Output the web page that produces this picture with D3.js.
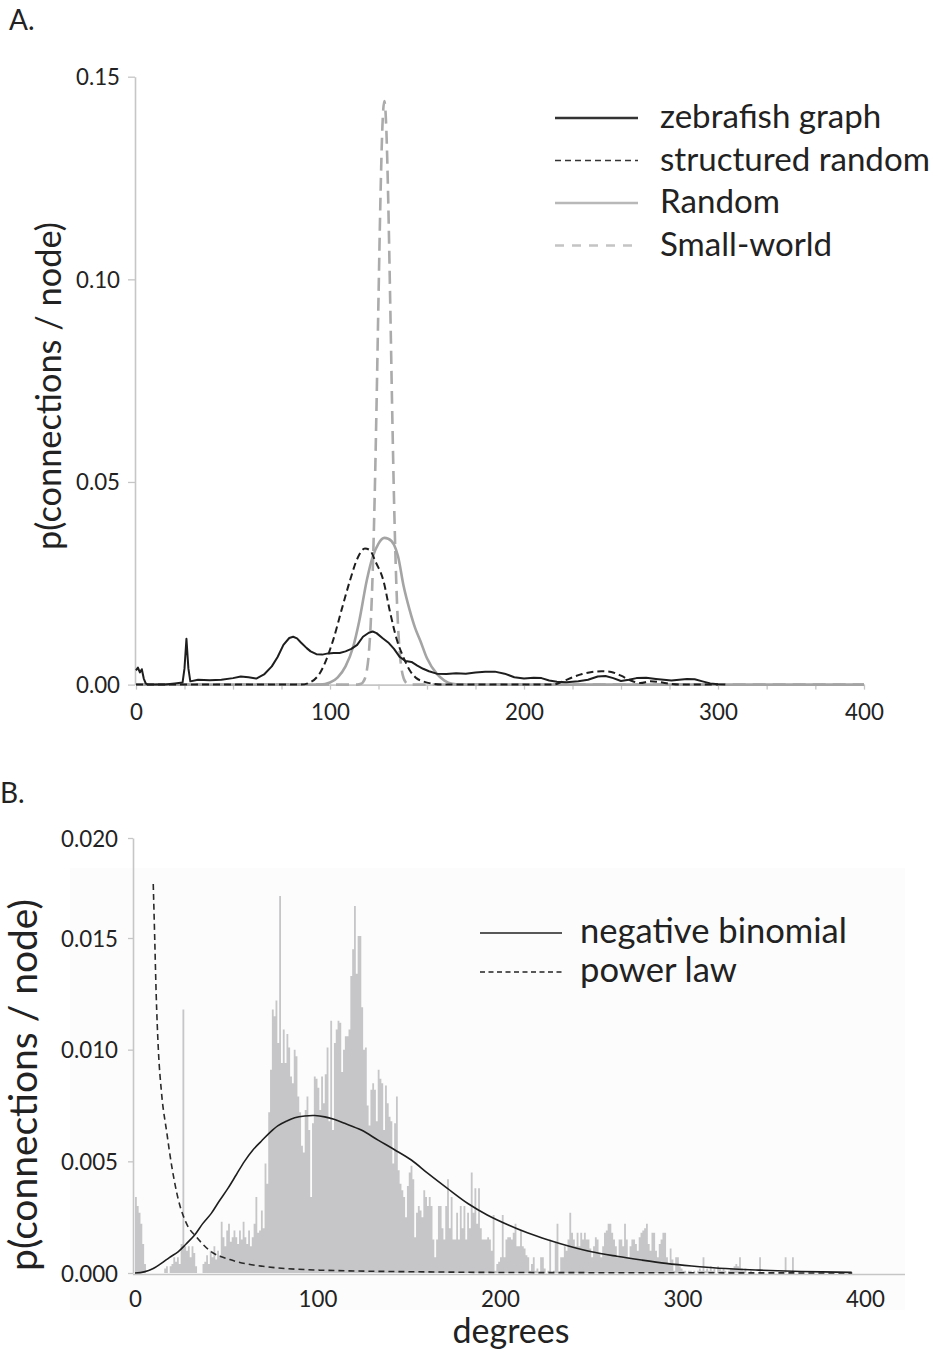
<!DOCTYPE html>
<html><head><meta charset="utf-8">
<script src="https://cdn.jsdelivr.net/npm/d3@7"></script>
<style>
html,body{margin:0;padding:0;background:#fff;}
svg{display:block;font-family:Lato,'Open Sans',sans-serif;}
</style></head><body>
<svg id="chart" width="944" height="1353"></svg>
<script>
// ---------------- DATA ----------------
// Panel A: degree distributions, [degree, p]
const zebrafishGraph = [[0,0.0035],[1,0.0042],[2,0.003],[3,0.0038],[4,0.0015],[5,0.0003],[6,0],[15,0],[20,0.0003],[24,0.0005],[25,0.004],[26,0.0113],[27,0.004],[28,0.0008],[32,0.0012],[38,0.0011],[44,0.0012],[50,0.0016],[54,0.002],[58,0.0018],[62,0.0015],[66,0.0025],[70,0.0045],[73,0.0068],[76,0.0098],[79,0.0115],[81,0.0118],[83,0.0114],[85,0.0104],[88,0.009],[90,0.0082],[93,0.0075],[96,0.0074],[99,0.0077],[102,0.0078],[105,0.0078],[108,0.0082],[111,0.0088],[114,0.0098],[117,0.0118],[120,0.0128],[122,0.0131],[124,0.0127],[127,0.0115],[130,0.0104],[133,0.0088],[136,0.0068],[139,0.0058],[142,0.0056],[145,0.0047],[148,0.0039],[151,0.0033],[155,0.0027],[160,0.0026],[165,0.0028],[170,0.0027],[175,0.003],[180,0.0032],[185,0.0032],[190,0.0027],[195,0.0018],[200,0.0015],[205,0.0017],[209,0.0016],[213,0.001],[217,0.0007],[222,0.0006],[228,0.0008],[233,0.0012],[238,0.002],[242,0.0021],[246,0.0016],[250,0.0009],[254,0.0012],[258,0.0016],[263,0.0017],[268,0.0014],[272,0.0012],[276,0.001],[280,0.0012],[284,0.0014],[288,0.0013],[292,0.0008],[296,0.0003],[300,0.0001],[305,0]];
const structuredRandom = [[0,0],[85,0],[90,0.0006],[95,0.003],[101.5,0.0108],[106,0.0185],[110.3,0.0257],[114,0.031],[118,0.0336],[120.5,0.0332],[123.5,0.0303],[127.5,0.0257],[131,0.0178],[134.5,0.011],[137.8,0.0068],[141,0.0036],[144.5,0.0016],[148,0.0008],[153,0.0002],[158,0],[215,0],[220,0.0008],[225,0.0018],[230,0.0026],[235,0.0031],[240,0.0033],[245,0.0031],[250,0.0022],[255,0.001],[260,0.0004],[265,0.0008],[270,0.0006],[275,0.0002],[280,0],[300,0]];
const randomGraph = [[0,0],[95,0],[100,0.0005],[104,0.0018],[108,0.0045],[112,0.0094],[115,0.0155],[119,0.0258],[122,0.0315],[125,0.0348],[128,0.0362],[130,0.036],[133,0.0345],[135,0.0318],[138,0.0242],[141,0.0185],[144,0.0138],[146.5,0.0109],[150,0.0065],[155,0.0027],[159,0.001],[163,0.0002],[167,0],[400,0]];
const smallWorld = [[0,0],[114,0],[116,0.0002],[117,0.0006],[118,0.0015],[119,0.0035],[120,0.0076],[121,0.0152],[122,0.0276],[123,0.0457],[124,0.0691],[125,0.0953],[126,0.1198],[127,0.1375],[128,0.144],[129,0.1375],[130,0.1198],[131,0.0953],[132,0.0691],[133,0.0457],[134,0.0276],[135,0.0152],[136,0.0076],[137,0.0035],[138,0.0015],[139,0.0006],[140,0.0002],[142,0],[400,0]];
const legendA = ["zebrafish graph","structured random","Random","Small-world"];
const yTicksA = [0,0.05,0.10,0.15];
const xTicksA = [0,25,50,75,100,125,150,175,200,225,250,275,300,333.33,366.67,400];
const xLabelsA = [0,100,200,300,400];

// Panel B: histogram of zebrafish degrees (one value per degree, starting at 0)
const degreeHist = [
0.0034,0.0030,0.0027,0.0022,0.0013,0.0004,0,0,0,0,
0,0,0,0,0,0,0.0002,0.0003,0,0.0003,
0.0004,0.0007,0.0005,0.0007,0.0004,0.0013,0.0118,0.0012,0.0010,0.0012,
0.0007,0.0012,0.0009,0.0003,0,0,0,0.0004,0.0005,0.0008,
0.0004,0.0010,0.0007,0.0012,0.0006,0.0010,0.0008,0.0023,0.0016,0.0012,
0.0019,0.0022,0.0014,0.0016,0.0019,0.0016,0.0013,0.0019,0.0015,0.0023,
0.0016,0.0013,0.0019,0.0012,0.0016,0.0022,0.0034,0.0018,0.0019,0.0028,
0.0020,0.0049,0.0040,0.0072,0.0091,0.0118,0.0115,0.0122,0.0103,0.0171,
0.0094,0.0109,0.0094,0.0107,0.0101,0.0088,0.0085,0.0100,0.0097,0.0079,
0.0072,0.0057,0.0054,0.0073,0.0079,0.0064,0.0034,0.0067,0.0088,0.0087,
0.0083,0.0073,0.0088,0.0076,0.0089,0.0101,0.0068,0.0113,0.0064,0.0103,
0.0109,0.0113,0.0112,0.0090,0.0100,0.0106,0.0106,0.0109,0.0133,0.0145,
0.0166,0.0134,0.0151,0.0151,0.0119,0.0100,0.0101,0.0075,0.0066,0.0082,
0.0085,0.0082,0.0068,0.0091,0.0087,0.0085,0.0064,0.0084,0.0076,0.0070,
0.0068,0.0049,0.0067,0.0079,0.0046,0.0040,0.0037,0.0034,0.0025,0.0039,
0.0045,0.0048,0.0042,0.0016,0.0027,0.0030,0.0028,0.0025,0.0037,0.0034,
0.0030,0.0034,0.0030,0.0015,0.0007,0.0015,0.0030,0.0030,0.0020,0.0015,
0.0030,0.0042,0.0020,0.0034,0.0015,0.0015,0.0027,0.0015,0.0030,0.0020,
0.0030,0.0015,0.0027,0.0020,0.0045,0.0027,0.0038,0.0022,0.0038,0.0020,
0.0015,0.0015,0.0015,0.0016,0.0015,0.0010,0.0026,0.0001,0.0004,0.0005,
0.0007,0.0026,0.0007,0.0015,0.0016,0.0016,0.0015,0.0018,0.0022,0.0012,
0.0012,0.0019,0.0012,0.0011,0.0008,0.0007,0.0001,0.0004,0.0007,0.0001,
0.0002,0,0.0007,0.0007,0.0002,0,0.0001,0.0015,0,0.0001,
0.0014,0.0022,0,0.0007,0.0007,0.0012,0.0010,0.0015,0.0027,0.0018,
0.0015,0.0012,0.0018,0.0012,0.0018,0.0015,0.0018,0.0015,0.0015,0.0011,
0.0007,0.0012,0.0016,0.0015,0.0009,0.0007,0.0012,0.0018,0.0019,0.0022,
0.0022,0.0018,0.0015,0.0012,0.0007,0.0015,0.0015,0.0012,0.0022,0.0015,
0.0007,0.0012,0.0015,0.0015,0.0013,0.0010,0.0016,0.0018,0.0019,0.0020,
0.0022,0.0013,0.0010,0.0018,0.0018,0.0010,0.0007,0.0013,0.0015,0.0018,
0.0018,0.0007,0.0004,0.0011,0.0006,0.0001,0.0007,0.0007,0.0003,0.0002,
0.0001,0.0001,0,0.0001,0.0001,0,0.0001,0,0.0001,0.0002,
0.0001,0.0007,0.0001,0.0002,0.0001,0.0003,0.0001,0.0002,0,0.0003,
0.0002,0.0001,0.0002,0.0001,0,0.0001,0.0002,0.0002,0.0003,0.0004,
0.0003,0.0007,0.0002,0.0001,0.0002,0,0,0.0001,0,0,
0,0,0.0007,0,0,0,0,0,0,0,
0,0,0,0,0,0,0.0007,0,0,0,
0.0007,0,0];
const negativeBinomial = [[0,0],[5,0.00005],[10,0.0002],[14.4,0.00043],[19,0.0007],[23.6,0.00095],[28,0.0013],[32.7,0.0017],[37,0.0022],[41.8,0.00267],[46,0.0032],[51,0.0038],[55.5,0.0044],[60,0.005],[64.5,0.0055],[69.2,0.0059],[74,0.0063],[78.4,0.0066],[83,0.0068],[87.5,0.00695],[93,0.00703],[98.5,0.00705],[104,0.00699],[109,0.00688],[114.9,0.0067],[124,0.0064],[133.2,0.00595],[142,0.00553],[151.4,0.00506],[160.5,0.00446],[171,0.0038],[182.6,0.0031],[193,0.0026],[204.6,0.00215],[215,0.0018],[226.5,0.00148],[238,0.0012],[250.2,0.00095],[264,0.00075],[277.6,0.00058],[291,0.00043],[305,0.00031],[320,0.00021],[341.6,0.00013],[365,0.00007],[392.7,0.00003]];
const powerLaw = [[10,0.0177],[10.8,0.015],[11.6,0.0125],[12.8,0.0100],[14.5,0.0081],[17.4,0.0063],[20.1,0.0048],[23.7,0.0033],[28.3,0.0022],[33.8,0.0016],[41,0.001],[52,0.0006],[70,0.0003],[101,0.00013],[160,0.00005],[211,0.00002],[300,0.00001],[393,0]];
const legendB = ["negative binomial","power law"];
const yTicksB = [0,0.005,0.010,0.015,0.020];
const xTicksB = [0,100,200,300,400];

// ---------------- DRAWING ----------------
const svg = d3.select("#chart");
const AX = "#c6c6c6";
const INK = "#1e1e1e";

function fitFont(sel, target){
  sel.style("font-size","30px");
  const w = sel.node().getComputedTextLength();
  const fs = 30*target/w;
  sel.style("font-size", fs+"px");
  return fs;
}
const probe = svg.append("text").text("0.020");
const tickFS = fitFont(probe, 57);
probe.remove();

function styleAxis(g){
  g.select(".domain").attr("stroke",AX).attr("stroke-width",1.6);
  g.selectAll(".tick line").attr("stroke",AX).attr("stroke-width",1.3);
  g.selectAll(".tick text").attr("fill","#222").style("font-size",tickFS+"px").style("font-family","Lato,'Open Sans',sans-serif");
}

// ===== Panel A =====
const xA = d3.scaleLinear().domain([0,300,400]).range([136,718,864]);
const yA = d3.scaleLinear().domain([0,0.15]).range([684.6,76.7]);

svg.append("text").attr("x",9).attr("y",30).text("A.").style("font-size","28px").attr("fill","#222");

const yAxA = svg.append("g").attr("transform","translate(135,0)")
  .call(d3.axisLeft(yA).tickValues(yTicksA).tickFormat(d3.format(".2f")).tickSize(7).tickSizeOuter(0).tickPadding(8));
styleAxis(yAxA);
yAxA.selectAll(".tick text").attr("dy","0.36em");

const xAxA = svg.append("g").attr("transform",`translate(0,${yA(0)})`)
  .call(d3.axisBottom(xA).tickValues(xTicksA).tickFormat(d => xLabelsA.includes(d) ? d : "").tickSize(5).tickSizeOuter(0));
styleAxis(xAxA);
xAxA.selectAll(".tick text").attr("y",35).attr("dy",0);

const yTitleA = svg.append("text").attr("transform","translate(61,386) rotate(-90)")
  .attr("text-anchor","middle").attr("fill","#222").text("p(connections / node)");
fitFont(yTitleA, 328);

const lineA = d3.line().x(d=>xA(d[0])).y(d=>yA(d[1])).curve(d3.curveMonotoneX);
const lineALin = d3.line().x(d=>xA(d[0])).y(d=>yA(d[1]));

const stylesA = [
  {data: smallWorld, stroke:"#ababab", w:2.6, dash:"13,7", gen: lineA},
  {data: randomGraph, stroke:"#a4a4a4", w:2.6, dash:null, gen: lineA},
  {data: structuredRandom, stroke:INK, w:2, dash:"7,4", gen: lineA},
  {data: zebrafishGraph, stroke:INK, w:2, dash:null, gen: lineALin}
];
stylesA.forEach(s=>{
  svg.append("path").datum(s.data).attr("d",s.gen).attr("fill","none")
    .attr("stroke",s.stroke).attr("stroke-width",s.w).attr("stroke-linejoin","round")
    .attr("stroke-dasharray",s.dash);
});

// legend A
const legStylesA = [
  {stroke:"#333", w:2.4, dash:null},
  {stroke:"#333", w:1.7, dash:"6,4"},
  {stroke:"#b8b8b8", w:2.4, dash:null},
  {stroke:"#c4c4c4", w:2.4, dash:"9,8"}
];
const legAg = svg.append("g");
let legFSA = null;
legendA.forEach((name,i)=>{
  const yy = 118 + i*42.5;
  legAg.append("line").attr("x1",555).attr("x2",638).attr("y1",yy).attr("y2",yy)
    .attr("stroke",legStylesA[i].stroke).attr("stroke-width",legStylesA[i].w).attr("stroke-dasharray",legStylesA[i].dash);
  const t = legAg.append("text").attr("x",660).attr("y",yy+10).attr("fill","#222").text(name);
  if(i===1) legFSA = fitFont(t,270);
});
legAg.selectAll("text").style("font-size",legFSA+"px");

// ===== Panel B =====
const xB = d3.scaleLinear().domain([0,400]).range([135,865]);
const yB = d3.scaleLinear().domain([0,0.015,0.020]).range([1273,938,838]);

svg.append("rect").attr("x",70).attr("y",868).attr("width",835).attr("height",442).attr("fill","#fcfcfc");
svg.append("text").attr("x",0).attr("y",803).text("B.").style("font-size","28px").attr("fill","#222");

// histogram as a stepped area (one step per degree)
const histPts = degreeHist.map((v,i)=>[i,v]).concat([[degreeHist.length,0]]);
const histArea = d3.area().x(d=>xB(d[0])).y0(yB(0)).y1(d=>yB(d[1])).curve(d3.curveStepAfter);
svg.append("path").datum(histPts).attr("d",histArea).attr("fill","#c6c6c8");

const yAxB = svg.append("g").attr("transform","translate(133,0)")
  .call(d3.axisLeft(yB).tickValues(yTicksB).tickFormat(d3.format(".3f")).tickSize(5).tickSizeOuter(0).tickPadding(10));
styleAxis(yAxB);
yAxB.selectAll(".tick text").attr("dy","0.36em");

const xAxB = svg.append("g").attr("transform",`translate(0,${yB(0)+1.5})`)
  .call(d3.axisBottom(xB).tickValues(xTicksB).tickFormat(d3.format("d")).tickSize(0).tickSizeOuter(0));
styleAxis(xAxB);
xAxB.select(".domain").attr("d","M133,0H905");
xAxB.selectAll(".tick text").attr("y",32).attr("dy",0);

const lineB = d3.line().x(d=>xB(d[0])).y(d=>yB(d[1])).curve(d3.curveMonotoneX);
const lineBSmooth = d3.line().x(d=>xB(d[0])).y(d=>yB(d[1])).curve(d3.curveCatmullRom.alpha(0.5));
svg.append("path").datum(powerLaw).attr("d",lineB).attr("fill","none")
  .attr("stroke","#2a2a2a").attr("stroke-width",1.6).attr("stroke-dasharray","6,4");
svg.append("path").datum(negativeBinomial).attr("d",lineBSmooth).attr("fill","none")
  .attr("stroke","#1e1e1e").attr("stroke-width",1.6);

const yTitleB = svg.append("text").attr("transform","translate(37,1085) rotate(-90)")
  .attr("text-anchor","middle").attr("fill","#222").text("p(connections / node)");
fitFont(yTitleB, 372);

const xTitleB = svg.append("text").attr("x",511).attr("y",1343).attr("text-anchor","middle")
  .attr("fill","#222").text("degrees");
fitFont(xTitleB, 117);

// legend B
const legStylesB = [{dash:null},{dash:"5,3.5"}];
const legBg = svg.append("g");
let legFSB=null;
legendB.forEach((name,i)=>{
  const yy = 933 + i*39;
  legBg.append("line").attr("x1",480).attr("x2",562).attr("y1",yy).attr("y2",yy)
    .attr("stroke","#222").attr("stroke-width",1.6).attr("stroke-dasharray",legStylesB[i].dash);
  const t = legBg.append("text").attr("x",580).attr("y",yy+10).attr("fill","#222").text(name);
  if(i===0) legFSB = fitFont(t,267);
});
legBg.selectAll("text").style("font-size",legFSB+"px");
</script></body></html>
